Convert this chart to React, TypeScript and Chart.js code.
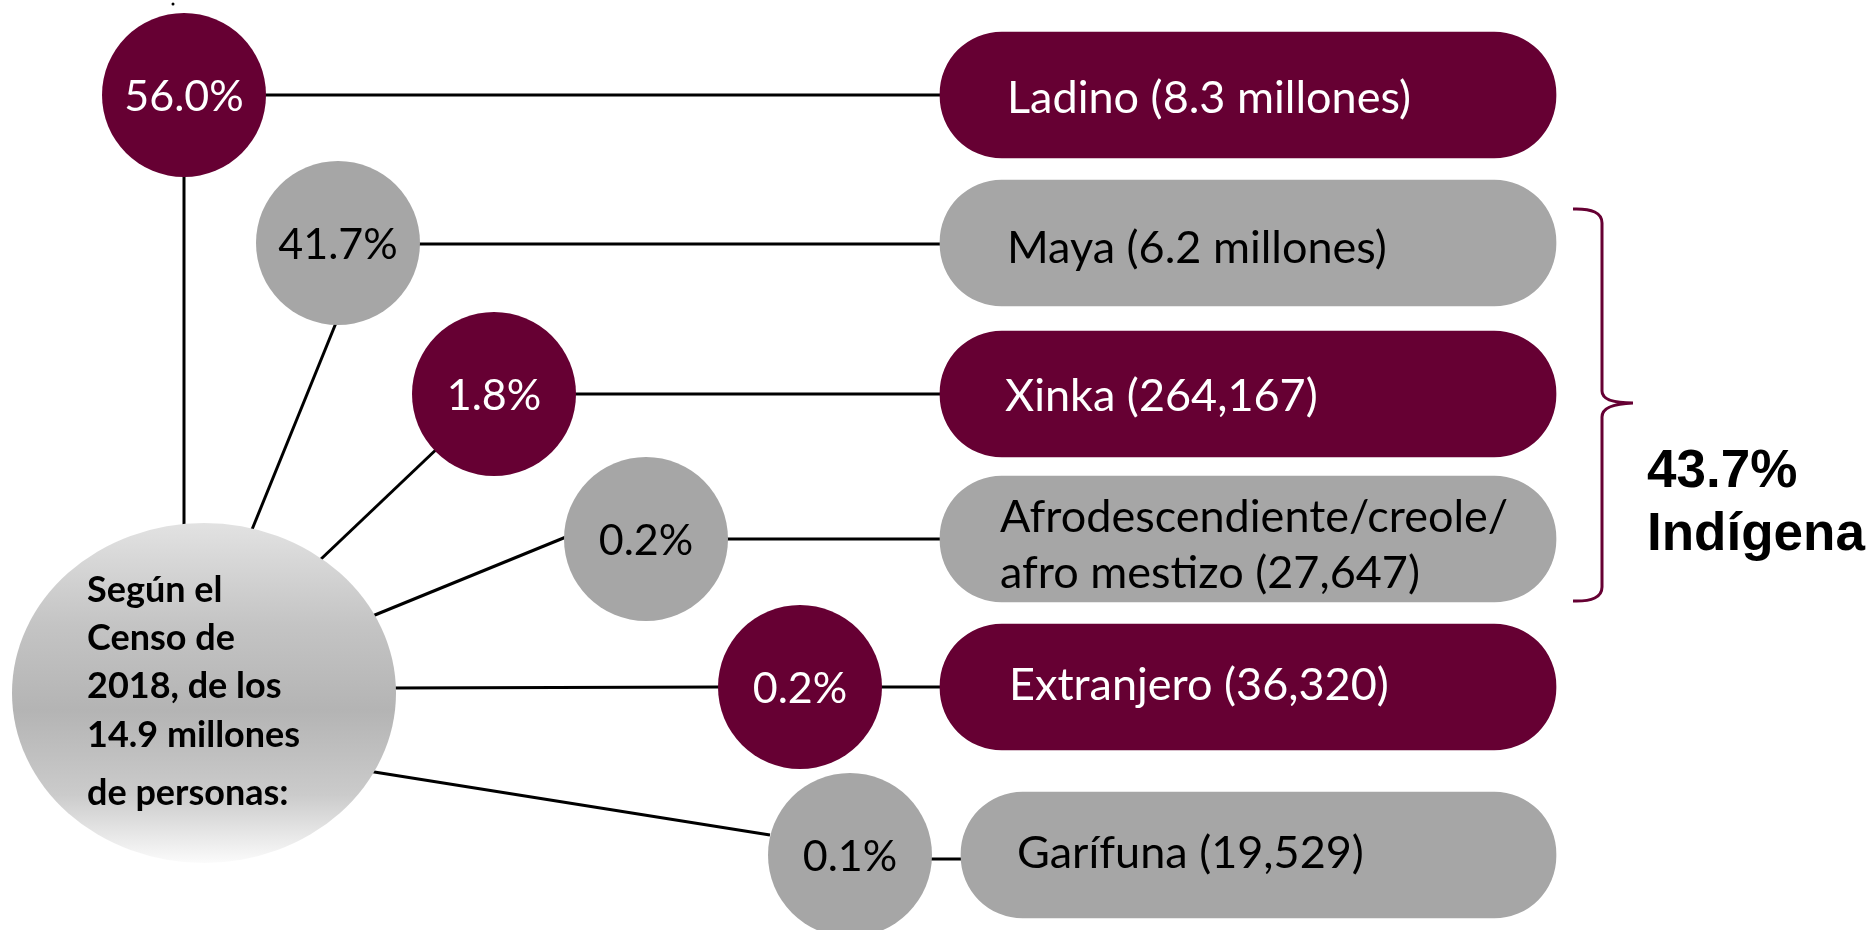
import React, { useEffect, useRef } from "react";
import { Chart, registerables } from "chart.js";

Chart.register(...registerables);

// ---- data (diagram units match the 1870x930 canvas) ----
const percents = ["56.0%", "41.7%", "1.8%", "0.2%", "0.2%", "0.1%"];
const groupLabels: (string | string[])[] = [
  "Ladino (8.3 millones)",
  "Maya (6.2 millones)",
  "Xinka (264,167)",
  ["Afrodescendiente/creole/", "afro mestizo (27,647)"],
  "Extranjero (36,320)",
  "Garífuna (19,529)",
];
const maroonRow = [true, false, true, false, true, false];
const rowY = [95, 243, 394, 539, 687, 855];
const circleX = [184, 338, 494, 646, 800, 850];
const circleR = [82, 82, 82, 82, 82, 82];
const boxStart = [940, 940, 940, 940, 940, 961];
const boxEnd = [1556, 1556, 1556, 1556, 1556, 1556];
const labelX = [1007, 1007, 1005, 1000, 1009, 1017];
const labelBaseline: (number | number[])[] = [113, 263, 411, [532, 588], 700, 868];

// connectors: [x1, y1, x2, y2]
const connectors = [
  [184, 95, 945, 95],
  [338, 244, 945, 244],
  [494, 394, 945, 394],
  [646, 539, 945, 539],
  [800, 687, 945, 687],
  [850, 859, 966, 859],
  [184, 95, 184, 530],
  [338, 318, 251, 532],
  [442, 444, 320, 560],
  [566, 537, 370, 617],
  [392, 688, 720, 687],
  [368, 771, 770, 835],
];

const hubCenter = [204, 693];
const hubRadii = [192, 170];
const hubText = ["Según el", "Censo de", "2018, de los", "14.9 millones", "de personas:"];
const hubTextX = 87;
const hubBaselines = [602, 650, 698, 747, 805];

const braceX = [1573, 1602, 1633];
const braceY = [209, 403, 601];
const totalText = ["43.7%", "Indígena"];
const totalX = 1647;
const totalBaselines = [487, 550];

const MAROON = "#660033";
const GRAY = "#a6a6a6";

export default function App() {
  const ref = useRef<HTMLCanvasElement | null>(null);

  useEffect(() => {
    document.body.style.margin = "0";
    const canvas = ref.current!;
    const overlay = {
      id: "overlay",
      afterDatasetsDraw(chart: any) {
        const { ctx } = chart;
        const sx = chart.scales.x;
        const sy = chart.scales.y;
        const px = (v: number) => sx.getPixelForValue(v);
        const py = (v: number) => sy.getPixelForValue(v);
        ctx.save();
        // hub ellipse
        const cx = px(hubCenter[0]);
        const cy = py(hubCenter[1]);
        const rx = px(hubCenter[0] + hubRadii[0]) - cx;
        const ry = py(hubCenter[1] + hubRadii[1]) - cy;
        const g = ctx.createLinearGradient(0, cy - ry, 0, cy + ry);
        g.addColorStop(0, "#e2e2e2");
        g.addColorStop(0.3, "#c4c4c4");
        g.addColorStop(0.55, "#b4b4b4");
        g.addColorStop(0.8, "#cbcbcb");
        g.addColorStop(1, "#fbfbfb");
        ctx.beginPath();
        ctx.ellipse(cx, cy, rx, ry, 0, 0, Math.PI * 2);
        ctx.fillStyle = g;
        ctx.fill();
        ctx.fillStyle = "#000";
        ctx.font = "bold 36px Lato";
        ctx.textAlign = "left";
        ctx.textBaseline = "alphabetic";
        hubText.forEach((t, i) => ctx.fillText(t, px(hubTextX), py(hubBaselines[i])));

        // circle percentages
        ctx.font = "43px Lato";
        ctx.textAlign = "center";
        ctx.textBaseline = "middle";
        percents.forEach((p, i) => {
          ctx.fillStyle = maroonRow[i] ? "#ffffff" : "#000000";
          ctx.fillText(p, px(circleX[i]), py(rowY[i]) + 2);
        });

        // box labels
        ctx.font = "45px Lato";
        ctx.textAlign = "left";
        ctx.textBaseline = "alphabetic";
        groupLabels.forEach((lab, i) => {
          ctx.fillStyle = maroonRow[i] ? "#ffffff" : "#000000";
          const lines = Array.isArray(lab) ? lab : [lab];
          const bases = labelBaseline[i];
          const bl = Array.isArray(bases) ? bases : [bases];
          lines.forEach((l, j) => ctx.fillText(l, px(labelX[i]), py(bl[j])));
        });

        // brace
        ctx.strokeStyle = MAROON;
        ctx.lineWidth = 3;
        ctx.beginPath();
        ctx.moveTo(px(braceX[0]), py(braceY[0]));
        ctx.quadraticCurveTo(px(braceX[1]), py(braceY[0]) - 1, px(braceX[1]), py(braceY[0] + 14));
        ctx.lineTo(px(braceX[1]), py(braceY[1] - 12));
        ctx.quadraticCurveTo(px(braceX[1]), py(braceY[1]), px(braceX[2]), py(braceY[1]));
        ctx.quadraticCurveTo(px(braceX[1]), py(braceY[1] + 1), px(braceX[1]), py(braceY[1] + 14));
        ctx.lineTo(px(braceX[1]), py(braceY[2] - 14));
        ctx.quadraticCurveTo(px(braceX[1]), py(braceY[2]) + 1, px(braceX[0]), py(braceY[2]));
        ctx.stroke();

        ctx.fillStyle = "#000";
        ctx.font = "bold 53px 'Liberation Sans', Arial, sans-serif";
        totalText.forEach((t, i) => ctx.fillText(t, px(totalX), py(totalBaselines[i])));
        ctx.restore();
      },
    };

    const lineSets = connectors.map((c) => ({
      type: "line" as const,
      data: [
        { x: c[0], y: c[1] },
        { x: c[2], y: c[3] },
      ],
      borderColor: "#000000",
      borderWidth: 3,
      pointRadius: 0,
      showLine: true,
      fill: false,
      clip: false,
      order: 10,
    }));

    const chart = new Chart(canvas, {
      type: "scatter",
      data: {
        datasets: [
          {
            type: "bubble",
            data: circleX.map((x, i) => ({ x, y: rowY[i], r: circleR[i] })),
            backgroundColor: maroonRow.map((m) => (m ? MAROON : GRAY)),
            borderWidth: 0,
            clip: false,
            order: 1,
          } as any,
          {
            type: "bar",
            indexAxis: "y",
            data: rowY.map((y, i) => ({ x: [boxStart[i], boxEnd[i]], y })),
            backgroundColor: maroonRow.map((m) => (m ? MAROON : GRAY)),
            barThickness: 126,
            borderRadius: 62,
            borderSkipped: false,
            grouped: false,
            clip: false,
            order: 2,
          } as any,
          {
            type: "scatter",
            data: [{ x: 173, y: 4 }],
            backgroundColor: "#000",
            pointRadius: 1.5,
            borderWidth: 0,
            clip: false,
            order: 0,
          } as any,
          ...lineSets,
        ],
      },
      options: {
        animation: false,
        responsive: false,
        events: [],
        layout: { padding: 0, autoPadding: false },
        plugins: { legend: { display: false }, tooltip: { enabled: false } },
        scales: {
          x: { type: "linear", min: 0, max: 1870, display: false, offset: false },
          y: { type: "linear", min: 0, max: 930, reverse: true, display: false, offset: false },
        },
      },
      plugins: [overlay],
    } as any);
    return () => chart.destroy();
  }, []);

  return (
    <div style={{ position: "absolute", left: 0, top: 0, width: 1870, height: 930, background: "#fff" }}>
      <canvas ref={ref} width={1870} height={930} style={{ display: "block" }} />
    </div>
  );
}
